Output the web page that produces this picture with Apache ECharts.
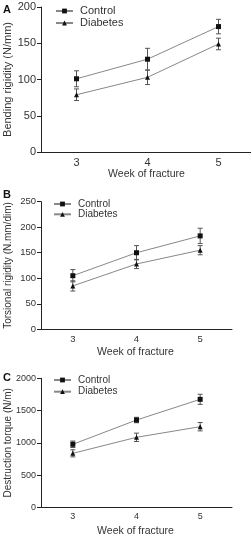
<!DOCTYPE html>
<html>
<head>
<meta charset="utf-8">
<script src="https://cdn.jsdelivr.net/npm/echarts@6/dist/echarts.min.js"></script>
<style>
html,body{margin:0;padding:0;background:#fff;}
#c{width:251px;height:538px;}
</style>
</head>
<body>
<div id="c"></div>
<script>
const weeks = ['3', '4', '5'];
const legendNames = ['Control', 'Diabetes'];

const bendControl = [101, 128, 173];
const bendControlErr = [11, 15, 10];
const bendDiabetes = [79, 103, 149];
const bendDiabetesErr = [8, 10, 8];

const torsControl = [105, 150, 183];
const torsControlErr = [12, 14, 15];
const torsDiabetes = [85, 128, 155];
const torsDiabetesErr = [10, 9, 9];

const destControl = [977, 1353, 1674];
const destControlErr = [50, 42, 78];
const destDiabetes = [837, 1085, 1250];
const destDiabetesErr = [55, 65, 65];

const yTitles = ['Bending rigidity (N/mm)', 'Torsional rigidity (N.mm/dim)', 'Destruction torque (N/m)'];
const xTitle = 'Week of fracture';
const panelLetters = ['A', 'B', 'C'];
const yMax = [200, 250, 2000];
const yInterval = [50, 50, 500];

const FONT = 'Liberation Sans, Arial, sans-serif';
const TXT = '#333';
const AX = '#222';

const panels = [
  {c: bendControl, ce: bendControlErr, d: bendDiabetes, de: bendDiabetesErr,
   grid: {left: 41, top: 7, width: 213, height: 145}, fs: 11, tfs: 11, lfs: 11, ngap: 28,
   legend: {left: 55, top: 5.5, itemGap: 1, lh: 11}, letter: [3, 4], xname: 174},
  {c: torsControl, ce: torsControlErr, d: torsDiabetes, de: torsDiabetesErr,
   grid: {left: 41, top: 201.7, width: 191, height: 127.6}, fs: 9.5, tfs: 10, lfs: 10, ngap: 28,
   legend: {left: 53, top: 199, itemGap: 0.3, lh: 10}, letter: [3, 189], xname: 351.7},
  {c: destControl, ce: destControlErr, d: destDiabetes, de: destDiabetesErr,
   grid: {left: 41, top: 378.3, width: 191, height: 129}, fs: 9, tfs: 10, lfs: 10, ngap: 28,
   legend: {left: 53, top: 375, itemGap: 1.7, lh: 10}, letter: [3, 372], xname: 530.7}
];

function errData(vals, errs) {
  return vals.map((v, i) => [i, v - errs[i], v + errs[i]]);
}

function errRender(params, api) {
  const x = api.value(0);
  const lo = api.coord([x, api.value(1)]);
  const hi = api.coord([x, api.value(2)]);
  const w = 2.5;
  const st = {stroke: '#555', lineWidth: 1};
  return {
    type: 'group',
    children: [
      {type: 'line', shape: {x1: lo[0], y1: lo[1], x2: hi[0], y2: hi[1]}, style: st},
      {type: 'line', shape: {x1: lo[0] - w, y1: lo[1], x2: lo[0] + w, y2: lo[1]}, style: st},
      {type: 'line', shape: {x1: hi[0] - w, y1: hi[1], x2: hi[0] + w, y2: hi[1]}, style: st}
    ]
  };
}

const option = {
  animation: false,
  backgroundColor: '#fff',
  textStyle: {fontFamily: FONT},
  grid: [], xAxis: [], yAxis: [], series: [], legend: [], graphic: []
};

panels.forEach((p, k) => {
  option.grid.push(Object.assign({containLabel: false, outerBoundsMode: 'none'}, p.grid));
  option.xAxis.push({
    type: 'category', gridIndex: k, data: weeks, boundaryGap: true,
    axisLine: {lineStyle: {color: AX, width: 1}},
    axisTick: {alignWithLabel: true, length: 4, lineStyle: {color: AX}},
    axisLabel: {color: TXT, fontSize: p.fs, margin: 5, fontFamily: FONT},
    splitLine: {show: false}
  });
  option.yAxis.push({
    type: 'value', gridIndex: k, min: 0, max: yMax[k], interval: yInterval[k],
    name: yTitles[k], nameLocation: 'middle', nameGap: p.ngap, nameRotate: 90,
    nameMoveOverlap: false,
    nameTextStyle: {color: TXT, fontSize: p.tfs, fontFamily: FONT},
    axisLine: {show: true, lineStyle: {color: AX, width: 1}},
    axisTick: {show: true, length: 4, lineStyle: {color: AX}},
    axisLabel: {color: TXT, fontSize: p.fs, margin: 5, fontFamily: FONT, formatter: v => String(v)},
    splitLine: {show: false}
  });
  option.series.push(
    {type: 'custom', xAxisIndex: k, yAxisIndex: k, renderItem: errRender, data: errData(p.c, p.ce), z: 1, silent: true},
    {type: 'custom', xAxisIndex: k, yAxisIndex: k, renderItem: errRender, data: errData(p.d, p.de), z: 1, silent: true},
    {type: 'line', name: legendNames[0], xAxisIndex: k, yAxisIndex: k, data: p.c,
     symbol: 'rect', symbolSize: 5, lineStyle: {color: '#888', width: 1}, itemStyle: {color: '#111'}, z: 3},
    {type: 'line', name: legendNames[1], xAxisIndex: k, yAxisIndex: k, data: p.d,
     symbol: 'triangle', symbolSize: 5, lineStyle: {color: '#888', width: 1}, itemStyle: {color: '#111'}, z: 3}
  );
  option.legend.push({
    orient: 'vertical', left: p.legend.left, top: p.legend.top, itemGap: p.legend.itemGap,
    itemWidth: 17, itemHeight: 6, padding: 0,
    data: legendNames, selectedMode: false,
    textStyle: {color: TXT, fontSize: p.lfs, lineHeight: p.legend.lh, fontFamily: FONT, padding: [0, 0, 0, 2]}
  });
  option.graphic.push({
    type: 'text', left: p.letter[0], top: p.letter[1],
    style: {text: panelLetters[k], font: 'bold 11px ' + FONT, fill: '#111'}
  });
  option.graphic.push({
    type: 'text', x: p.grid.left + (k === 0 ? 213 : 191) * 0.5 - 1, y: p.xname,
    style: {text: xTitle, font: '10.5px ' + FONT, fill: TXT, align: 'center', verticalAlign: 'middle'}
  });
});

const chart = echarts.init(document.getElementById('c'), null, {renderer: 'canvas'});
chart.setOption(option);
</script>
</body>
</html>
